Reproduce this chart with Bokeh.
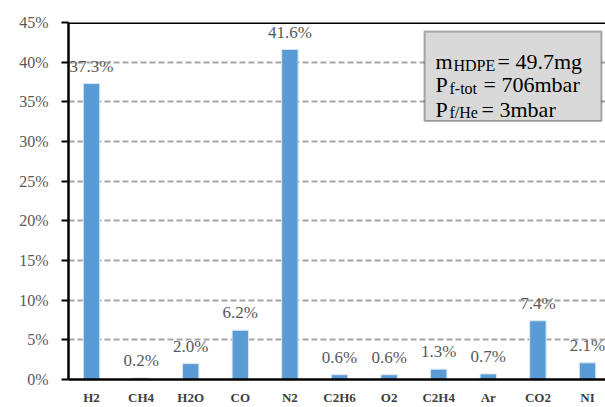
from bokeh.plotting import figure
from bokeh.models import Range1d, FixedTicker, Span, BoxAnnotation, Label, ColumnDataSource
from bokeh.embed import file_html
from bokeh.resources import INLINE
from bokeh.core.properties import value

categories = ["H2", "CH4", "H2O", "CO", "N2", "C2H6", "O2", "C2H4", "Ar", "CO2", "NI"]
percent = [37.3, 0.2, 2.0, 6.2, 41.6, 0.6, 0.6, 1.3, 0.7, 7.4, 2.1]
y_ticks = [0, 5, 10, 15, 20, 25, 30, 35, 40, 45]
y_tick_labels = ["0%", "5%", "10%", "15%", "20%", "25%", "30%", "35%", "40%", "45%"]
bar_labels = ["37.3%", "0.2%", "2.0%", "6.2%", "41.6%", "0.6%", "0.6%", "1.3%", "0.7%", "7.4%", "2.1%"]

W, H = 605, 407
BL, BT, BB, BR = 68, 22, 26, 0
FW = W - BL - BR
FH = H - BT - BB
SPACING = 49.6
X0 = -(91 - 68) / SPACING
X1 = X0 + FW / SPACING
PPU = FH / 45.0

SERIF = "'Liberation Serif', serif"

p = figure(width=W, height=H, output_backend="svg", toolbar_location=None,
           x_range=Range1d(X0, X1), y_range=Range1d(0, 45),
           min_border_left=BL, min_border_right=BR, min_border_top=BT, min_border_bottom=BB)
p.outline_line_color = None
p.background_fill_color = "white"
p.border_fill_color = "white"

xs = list(range(len(categories)))
src = ColumnDataSource(dict(x=xs, top=percent, lab=bar_labels,
                            ly=[v + 8 / PPU for v in percent]))
p.vbar(x="x", top="top", width=0.33, source=src, fill_color="#5b9bd5",
       line_color="#d6e6f5", line_width=1)
p.text(x="x", y="ly", text="lab", source=src, text_align="center", text_baseline="bottom",
       text_font=value(SERIF), text_font_size="17px", text_color="#595959")

# axes
p.xaxis.ticker = FixedTicker(ticks=xs)
p.xaxis.major_label_overrides = {i: c for i, c in enumerate(categories)}
p.xaxis.axis_line_color = "black"
p.xaxis.axis_line_width = 2.5
p.xaxis.major_tick_line_color = None
p.xaxis.major_tick_out = 0
p.xaxis.major_tick_in = 0
p.xaxis.minor_tick_line_color = None
p.xaxis.major_label_text_font = SERIF
p.xaxis.major_label_text_font_size = "13px"
p.xaxis.major_label_text_font_style = "bold"
p.xaxis.major_label_text_color = "#404040"
p.xaxis.major_label_standoff = 10

p.yaxis.ticker = FixedTicker(ticks=y_ticks)
p.yaxis.major_label_overrides = {t: l for t, l in zip(y_ticks, y_tick_labels)}
p.yaxis.axis_line_color = "black"
p.yaxis.axis_line_width = 2.5
p.yaxis.major_tick_line_color = "black"
p.yaxis.major_tick_line_width = 2
p.yaxis.major_tick_out = 7
p.yaxis.major_tick_in = 0
p.yaxis.minor_tick_line_color = None
p.yaxis.major_label_text_font = SERIF
p.yaxis.major_label_text_font_size = "16px"
p.yaxis.major_label_text_color = "#595959"
p.yaxis.major_label_standoff = 13

p.xgrid.grid_line_color = None
p.ygrid.ticker = FixedTicker(ticks=y_ticks)
p.ygrid.grid_line_color = "#a6a6a6"
p.ygrid.grid_line_width = 2
p.ygrid.grid_line_dash = "6 3"

p.add_layout(Span(location=45, dimension="width", line_color="black", line_width=3))


def px_x(px):
    return X0 + (px - BL) / SPACING


def px_y(py):
    return 45 - (py - BT) / PPU


# info box
p.add_layout(BoxAnnotation(left=px_x(424), right=px_x(601), top=px_y(31), bottom=px_y(121),
                           fill_color="#d9d9d9", fill_alpha=1, line_color="black",
                           line_width=2, level="overlay"))

BIG = 22
SMALL = 16
# (text, x pixel, baseline pixel, size)
pieces = [
    ("m", 435, 61, BIG), ("HDPE", 453, 65, SMALL), ("=", 497, 61, BIG), ("49.7mg", 515, 61, BIG),
    ("P", 435, 84, BIG), ("f-tot", 449, 88, SMALL), ("=", 483, 84, BIG), ("706mbar", 501, 84, BIG),
    ("P", 435, 109, BIG), ("f/He", 449, 113, SMALL), ("=", 481, 109, BIG), ("3mbar", 499, 109, BIG),
]
for txt, px, py, sz in pieces:
    p.add_layout(Label(x=px_x(px), y=px_y(py), text=txt, text_font=SERIF,
                       text_font_size=f"{sz}px", text_color="black", text_baseline="alphabetic",
                       level="overlay"))

open("out.html", "w").write(file_html(p, INLINE))
